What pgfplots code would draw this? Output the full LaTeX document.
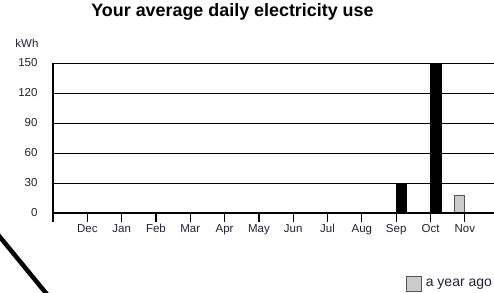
\documentclass[border=0pt]{standalone}
\usepackage{fontspec}
\setmainfont{Liberation Sans}
\usepackage{pgfplots}
\pgfplotsset{compat=1.18}
\definecolor{lbl}{HTML}{222233}
\definecolor{agofill}{HTML}{CCCCCC}
\definecolor{agodraw}{HTML}{555555}
\begin{document}
\begin{tikzpicture}[x=1pt,y=1pt]
\useasboundingbox (0pt,0pt) rectangle (494pt,292pt);
\clip (0pt,0pt) rectangle (494pt,292pt);
\fill[white] (0pt,0pt) rectangle (494pt,292pt);
\begin{axis}[
  at={(53pt,79pt)}, anchor=south west,
  scale only axis, width=441pt, height=150pt,
  xmin=-1, xmax=11.85, ymin=0, ymax=150,
  axis y line*=left, axis x line*=bottom,
  axis line style={-, black, line width=1.4pt},
  every outer x axis line/.append style={-},
  every outer y axis line/.append style={-},
  xtick={0,...,11},
  xticklabels={Dec,Jan,Feb,Mar,Apr,May,Jun,Jul,Aug,Sep,Oct,Nov},
  extra x ticks={-1}, extra x tick labels={},
  extra x tick style={grid=none},
  ytick={0,30,60,90,120,150},
  ymajorgrids, grid style={black, line width=0.9pt},
  tick align=outside, major tick length=9pt,
  xtick style={black, line width=1.2pt},
  ytick style={draw=none},
  /pgf/number format/assume math mode=true,
  tick label style={font=\fontsize{11.5}{12}\selectfont, text=lbl},
  xticklabel style={yshift=1pt},
  yticklabel style={xshift=-3pt},
  title={\textbf{Your average daily electricity use}},
  title style={font=\fontsize{17.9}{19}\selectfont, at={(axis description cs:0.407,1.267)}, anchor=base},
  ylabel={kWh},
  ylabel style={rotate=-90, font=\fontsize{11.5}{12}\selectfont, text=lbl, at={(axis description cs:-0.059,1.1)}, anchor=base},
  axis on top,
  legend style={draw=none, fill=none, at={(axis description cs:0.800,-0.473)}, anchor=west,
    font=\fontsize{14}{15}\selectfont, text=lbl, inner sep=0pt,
    nodes={inner xsep=4pt}},
  legend image code/.code={\draw[fill=agofill, draw=agodraw, line width=0.8pt] (0pt,-7.5pt) rectangle (15pt,7.5pt);},
]
% a year ago
\addplot[ybar, bar width=10.5pt, bar shift=-5.25pt, fill=agofill, draw=agodraw, line width=0.8pt]
  coordinates {(11,18)};
\addlegendentry{a year ago}
% this year
\addplot[ybar, bar width=10.5pt, bar shift=5.25pt, fill=black, draw=black, forget plot]
  coordinates {(9,30) (10,160)};
\end{axis}
\draw[line width=4.5pt, black] (-5pt,61pt) -- (50pt,-6pt);
\end{tikzpicture}
\end{document}
